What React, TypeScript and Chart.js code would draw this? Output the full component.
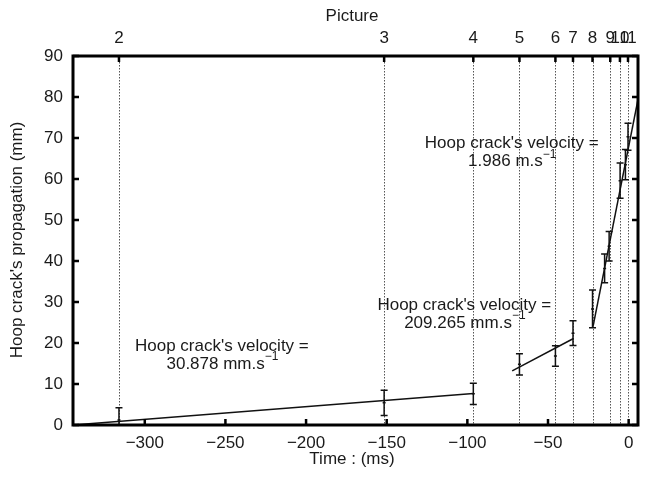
import React, { useEffect, useRef } from 'react';
import { Chart, registerables } from 'chart.js';

Chart.register(...registerables);

// ---- data ----
const pictureLabels = ['2', '3', '4', '5', '6', '7', '8', '9', '10', '11'];
const pictureTimes = [-316, -151.6, -96.3, -67.7, -45.4, -34.5, -22.4, -11.4, -5.4, -0.4];

const measureTimes = [-316, -151.6, -96.3, -67.7, -45.4, -34.5, -22.4, -14.9, -12.1, -5.3, -2.0, -0.4];
const measureValues = [1.2, 5.4, 7.6, 14.8, 16.8, 22.4, 28.3, 38.2, 43.6, 59.6, 63.5, 70.3];
const measureErrors = [3.0, 3.1, 2.6, 2.6, 2.5, 3.0, 4.6, 3.5, 3.6, 4.3, 3.7, 3.3];

const fit1Times = [-344.5, -96.3];
const fit1Values = [0, 7.7];
const fit2Times = [-72.2, -34.2];
const fit2Values = [13.2, 21.1];
const fit3Times = [-22, 5.8];
const fit3Values = [24.2, 79.4];

const timeTicks = [-300, -250, -200, -150, -100, -50, 0];
const propTicks = [0, 10, 20, 30, 40, 50, 60, 70, 80, 90];

const velocityTitle = "Hoop crack's velocity =";
const velocityValues = ['30.878 mm.s', '209.265 mm.s', '1.986 m.s'];

const FONT = '"Liberation Sans", Arial, Helvetica, sans-serif';
const TEXT = '#1a1a1a';
const FS = 17;

const toPts = (xs: number[], ys: number[]) => xs.map((x, i) => ({ x, y: ys[i] }));

const customPlugin = {
  id: 'custom',
  beforeDatasetsDraw(chart: any) {
    const { ctx, chartArea: a } = chart;
    const x2 = chart.scales.x2;
    ctx.save();
    ctx.strokeStyle = '#555';
    ctx.lineWidth = 1;
    ctx.setLineDash([1.5, 1.5]);
    pictureTimes.forEach((t) => {
      const px = Math.round(x2.getPixelForValue(t)) + 0.5;
      ctx.beginPath();
      ctx.moveTo(px, a.top);
      ctx.lineTo(px, a.bottom);
      ctx.stroke();
    });
    ctx.restore();
  },
  afterDatasetsDraw(chart: any) {
    const { ctx, chartArea: a } = chart;
    const xs = chart.scales.x;
    const ys = chart.scales.y;
    // error bars
    ctx.save();
    ctx.beginPath();
    ctx.rect(a.left, a.top, a.right - a.left, a.bottom - a.top);
    ctx.clip();
    ctx.strokeStyle = '#111';
    ctx.lineWidth = 1.5;
    measureTimes.forEach((t, i) => {
      const px = xs.getPixelForValue(t);
      const top = ys.getPixelForValue(measureValues[i] + measureErrors[i]);
      const bot = ys.getPixelForValue(measureValues[i] - measureErrors[i]);
      const mid = ys.getPixelForValue(measureValues[i]);
      ctx.beginPath();
      ctx.moveTo(px, top);
      ctx.lineTo(px, bot);
      ctx.moveTo(px - 3.5, top);
      ctx.lineTo(px + 3.5, top);
      ctx.moveTo(px - 3.5, bot);
      ctx.lineTo(px + 3.5, bot);
      ctx.moveTo(px - 1.5, mid);
      ctx.lineTo(px + 1.5, mid);
      ctx.stroke();
    });
    ctx.restore();

    // annotations
    const annos = [
      { t: -252.2, v: 19.3 },
      { t: -101.9, v: 29.3 },
      { t: -72.5, v: 68.6 },
    ];
    ctx.save();
    ctx.fillStyle = TEXT;
    ctx.textBaseline = 'middle';
    annos.forEach((an, i) => {
      const cx = xs.getPixelForValue(an.t);
      const cy = ys.getPixelForValue(an.v);
      ctx.font = `${FS}px ${FONT}`;
      ctx.textAlign = 'center';
      ctx.fillText(velocityTitle, cx, cy);
      const line2 = velocityValues[i];
      const w2 = ctx.measureText(line2).width;
      ctx.font = `11px ${FONT}`;
      const ws = ctx.measureText('\u22121').width;
      const start = cx - (w2 + ws) / 2;
      ctx.textAlign = 'left';
      ctx.font = `${FS}px ${FONT}`;
      ctx.fillText(line2, start, cy + 18);
      ctx.font = `12px ${FONT}`;
      ctx.fillText('\u22121', start + w2, cy + 11);
    });
    ctx.restore();
  },
  afterDraw(chart: any) {
    const { ctx, chartArea: a } = chart;
    const xs = chart.scales.x;
    const x2 = chart.scales.x2;
    const ys = chart.scales.y;
    ctx.save();
    ctx.strokeStyle = '#000';
    ctx.lineWidth = 3;
    ctx.strokeRect(a.left, a.top, a.right - a.left, a.bottom - a.top);
    ctx.lineWidth = 2.5;
    ctx.beginPath();
    timeTicks.forEach((t) => {
      const px = xs.getPixelForValue(t);
      ctx.moveTo(px, a.bottom);
      ctx.lineTo(px, a.bottom - 6);
    });
    pictureTimes.forEach((t) => {
      const px = x2.getPixelForValue(t);
      ctx.moveTo(px, a.top);
      ctx.lineTo(px, a.top + 6);
    });
    propTicks.forEach((v) => {
      const py = ys.getPixelForValue(v);
      ctx.moveTo(a.left, py);
      ctx.lineTo(a.left + 6, py);
      ctx.moveTo(a.right, py);
      ctx.lineTo(a.right - 6, py);
    });
    ctx.stroke();

    // axis titles
    ctx.fillStyle = TEXT;
    ctx.font = `${FS}px ${FONT}`;
    ctx.textAlign = 'center';
    ctx.textBaseline = 'middle';
    ctx.fillText('Time : (ms)', 352, 459);
    ctx.fillText('Picture', 352, 16);
    ctx.translate(17, 240);
    ctx.rotate(-Math.PI / 2);
    ctx.fillText("Hoop crack's propagation (mm)", 0, 0);
    ctx.restore();
  },
};

export default function App() {
  const ref = useRef<HTMLCanvasElement>(null);
  useEffect(() => {
    document.body.style.margin = '0';
    const canvas = ref.current!;
    const tickFont = { family: FONT, size: FS };
    const lineDs = (xs: number[], ys: number[]) => ({
      data: toPts(xs, ys),
      showLine: true,
      borderColor: '#111',
      borderWidth: 1.5,
      pointRadius: 0,
      fill: false,
    });
    const chart = new Chart(canvas, {
      type: 'scatter',
      data: {
        datasets: [
          lineDs(fit1Times, fit1Values),
          lineDs(fit2Times, fit2Values),
          lineDs(fit3Times, fit3Values),
          {
            data: toPts(measureTimes, measureValues),
            pointRadius: 0,
            showLine: false,
          },
        ],
      },
      options: {
        animation: false,
        responsive: false,
        devicePixelRatio: 1,
        layout: { padding: 0 },
        plugins: { legend: { display: false }, tooltip: { enabled: false } },
        scales: {
          x: {
            type: 'linear',
            position: 'bottom',
            min: -344.5,
            max: 5.8,
            afterBuildTicks: (s: any) => {
              s.ticks = timeTicks.map((v) => ({ value: v }));
            },
            afterFit: (s: any) => {
              s.height = 52;
            },
            grid: { display: false, drawTicks: false },
            border: { display: false },
            ticks: {
              font: tickFont,
              color: TEXT,
              padding: 8,
              autoSkip: false,
              maxRotation: 0,
              minRotation: 0,
              callback: (v: any) => (v < 0 ? '\u2212' + Math.abs(v) : String(v)),
            },
          },
          x2: {
            type: 'linear',
            position: 'top',
            min: -344.5,
            max: 5.8,
            afterBuildTicks: (s: any) => {
              s.ticks = pictureTimes.map((v) => ({ value: v }));
            },
            afterFit: (s: any) => {
              s.height = 56;
            },
            grid: { display: false, drawTicks: false },
            border: { display: false },
            ticks: {
              font: tickFont,
              color: TEXT,
              padding: 7,
              autoSkip: false,
              maxRotation: 0,
              minRotation: 0,
              callback: (_v: any, i: number) => pictureLabels[i],
            },
          },
          y: {
            type: 'linear',
            position: 'left',
            min: 0,
            max: 90,
            afterBuildTicks: (s: any) => {
              s.ticks = propTicks.map((v) => ({ value: v }));
            },
            afterFit: (s: any) => {
              s.width = 73;
            },
            grid: { display: false, drawTicks: false },
            border: { display: false },
            ticks: { font: tickFont, color: TEXT, padding: 10 },
          },
          y2: {
            type: 'linear',
            position: 'right',
            min: 0,
            max: 90,
            afterFit: (s: any) => {
              s.width = 15;
            },
            grid: { display: false, drawTicks: false },
            border: { display: false },
            ticks: { display: false },
          },
        },
      } as any,
      plugins: [customPlugin],
    });
    return () => chart.destroy();
  }, []);
  return (
    <div style={{ width: 653, height: 477 }}>
      <canvas ref={ref} width={653} height={477} style={{ display: 'block', width: 653, height: 477 }} />
    </div>
  );
}
